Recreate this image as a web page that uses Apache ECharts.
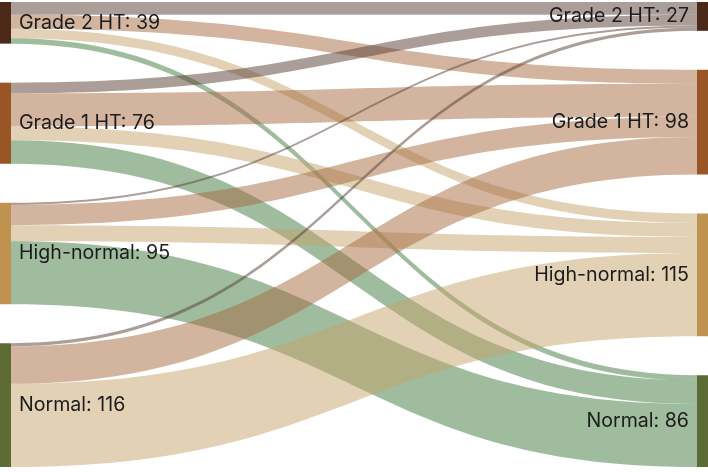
<!DOCTYPE html>
<html>
<head>
<meta charset="utf-8">
<script src="https://cdn.jsdelivr.net/npm/echarts@6/dist/echarts.min.js"></script>
<style>
html,body{margin:0;padding:0;background:#fff;}
#chart{width:708px;height:472px;}
</style>
</head>
<body>
<div id="chart"></div>
<script>
// Categories (same order on both sides, top to bottom)
const categories = ['Grade 2 HT', 'Grade 1 HT', 'High-normal', 'Normal'];
// Flow values: rows = left (source) category, columns = right (target) category
const flowFromGrade2 = [12, 13, 9, 5];
const flowFromGrade1 = [10, 31, 13, 22];
const flowFromHighNormal = [2, 19, 15, 59];
const flowFromNormal = [3, 35, 78, 0];
const flows = [flowFromGrade2, flowFromGrade1, flowFromHighNormal, flowFromNormal];

const nodeColors = ['#4b2a1a', '#9a5527', '#c0924f', '#5c6b34'];
const linkColors = ['#573d33', '#a5693f', '#c5a36b', '#3f793f'];

const nodes = [];
categories.forEach(function (c, i) {
  nodes.push({
    name: 'L_' + c, label: { position: 'right' },
    itemStyle: { color: nodeColors[i] }, display: c
  });
});
categories.forEach(function (c, i) {
  nodes.push({
    name: 'R_' + c, label: { position: 'left' },
    itemStyle: { color: nodeColors[i] }, display: c
  });
});

const links = [];
flows.forEach(function (row, i) {
  row.forEach(function (v, j) {
    if (v > 0) {
      links.push({
        source: 'L_' + categories[i], target: 'R_' + categories[j], value: v,
        lineStyle: { color: linkColors[j], opacity: 0.5 }
      });
    }
  });
});

const chart = echarts.init(document.getElementById('chart'), null, { renderer: 'canvas' });
chart.setOption({
  animation: false,
  series: [{
    type: 'sankey',
    left: 0, right: 0, top: 2, bottom: 5,
    nodeWidth: 11,
    nodeGap: 39,
    layoutIterations: 0,
    draggable: false,
    emphasis: { disabled: true },
    data: nodes,
    links: links,
    lineStyle: { curveness: 0.5 },
    itemStyle: { borderWidth: 0 },
    label: {
      fontFamily: 'Inter, sans-serif',
      fontSize: 19.6,
      color: '#1c1c1c',
      distance: 8,
      formatter: function (p) { return p.data.display + ': ' + p.value; }
    }
  }]
});
</script>
</body>
</html>
